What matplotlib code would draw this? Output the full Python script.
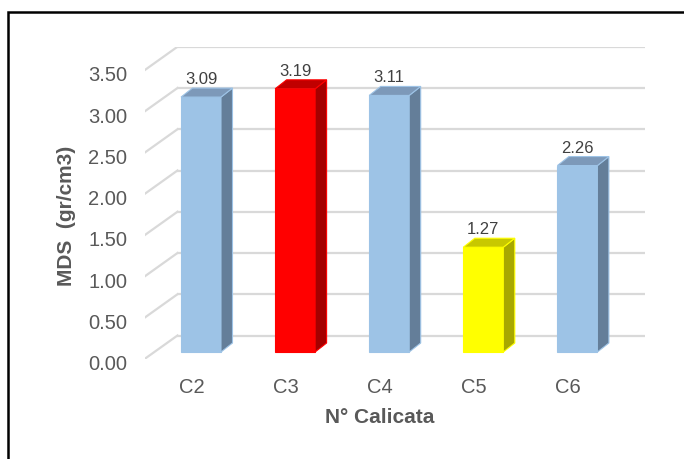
import matplotlib
matplotlib.use("Agg")
import matplotlib.pyplot as plt
from matplotlib.patches import Polygon, Rectangle
import matplotlib.transforms as mtransforms

# ---- data ----
categories = ["C2", "C3", "C4", "C5", "C6"]
values = [3.09, 3.19, 3.11, 1.27, 2.26]
front_colors = ["#9DC3E6", "#FF0000", "#9DC3E6", "#FFFF00", "#9DC3E6"]
side_colors = ["#647E99", "#A50000", "#647E99", "#A8A800", "#647E99"]
top_colors = ["#7D99B9", "#C00000", "#7D99B9", "#C8C800", "#7D99B9"]
yticks = [0.0, 0.5, 1.0, 1.5, 2.0, 2.5, 3.0, 3.5]
ytick_labels = ["0.00", "0.50", "1.00", "1.50", "2.00", "2.50", "3.00", "3.50"]
xlabel = "N° Calicata"
ylabel = "MDS  (gr/cm3)"

# ---- layout / style ----
W, H, DPI = 684, 460, 100
plt.rcParams['font.family'] = ['Liberation Sans', 'DejaVu Sans']
fig = plt.figure(figsize=(W / DPI, H / DPI), dpi=DPI)

xlim = (-0.60, 4.72)
ylim = (-0.09, 3.70)
px_per_x = 94.1
px_per_y = 82.5
left_px = 201 + px_per_x * xlim[0]
right_px = 201 + px_per_x * xlim[1]
bottom_px = 353 - px_per_y * ylim[0]
top_px = 353 - px_per_y * ylim[1]
ax = fig.add_axes([left_px / W, (H - bottom_px) / H,
                   (right_px - left_px) / W, (bottom_px - top_px) / H])
ax.set_xlim(*xlim)
ax.set_ylim(*ylim)
for s in ax.spines.values():
    s.set_visible(False)

back_dy = 16.5 / px_per_y     # back wall offset
front_dy = -7.0 / px_per_y    # front floor edge offset
back_x = -0.25
grid_color = "#D9D9D9"

# back wall gridlines + side wall diagonals
for v in yticks:
    ax.plot([back_x, xlim[1]], [v + back_dy, v + back_dy], color=grid_color, lw=1.6,
            solid_capstyle='butt', zorder=1)
    ax.plot([xlim[0], back_x], [v + front_dy, v + back_dy], color=grid_color, lw=1.6,
            zorder=1)

# bars (3D look)
bw = 40 / px_per_x
ddx = 11.5 / px_per_x
ddy = 9.0 / px_per_y
xs = list(range(len(categories)))
ax.bar(xs, values, width=bw, color=front_colors, edgecolor=front_colors, lw=0.8, zorder=3)
for x, v, sc, tc, fc in zip(xs, values, side_colors, top_colors, front_colors):
    r = x + bw / 2
    l = x - bw / 2
    side = Polygon([(r, 0), (r + ddx, ddy), (r + ddx, v + ddy), (r, v)], closed=True,
                   facecolor=sc, edgecolor=fc, lw=0.8, zorder=3)
    top = Polygon([(l, v), (r, v), (r + ddx, v + ddy), (l + ddx, v + ddy)], closed=True,
                  facecolor=tc, edgecolor=fc, lw=0.8, zorder=3)
    ax.add_patch(side)
    ax.add_patch(top)
    ax.text(x, v + ddy + 5 / px_per_y, f"{v:.2f}", ha='center', va='baseline',
            fontsize=12, color="#404040", zorder=4)

# ticks
ax.set_yticks(yticks)
ax.set_yticklabels(ytick_labels)
ax.set_xticks(xs)
ax.set_xticklabels(categories)
ax.tick_params(axis='y', length=0, pad=12.5, labelsize=14.5, labelcolor="#595959")
ax.tick_params(axis='x', length=0, pad=13, labelsize=14.5, labelcolor="#595959")
yoff = mtransforms.ScaledTranslation(0, -9.5 / DPI, fig.dpi_scale_trans)
xoff = mtransforms.ScaledTranslation(-9.5 / DPI, 0, fig.dpi_scale_trans)
for lab in ax.get_yticklabels():
    lab.set_transform(lab.get_transform() + yoff)
for lab in ax.get_xticklabels():
    lab.set_transform(lab.get_transform() + xoff)

ax.set_xlabel(xlabel, fontsize=15, fontweight='bold', color="#595959", va='center')
ax.xaxis.set_label_coords((380 - left_px) / (right_px - left_px),
                          (bottom_px - 418) / (bottom_px - top_px))
ax.set_ylabel(ylabel, fontsize=15, fontweight='bold', color="#595959", va='center',
              ha='center')
ax.yaxis.set_label_coords((66 - left_px) / (right_px - left_px),
                          (bottom_px - 216) / (bottom_px - top_px))

# outer frame
fig.patches.append(Rectangle((8 / W, -0.1), 1.2, (H - 13) / H + 0.1,
                             transform=fig.transFigure, fill=False,
                             edgecolor="black", lw=1.8))

fig.savefig("out.png", dpi=DPI, facecolor="white")
